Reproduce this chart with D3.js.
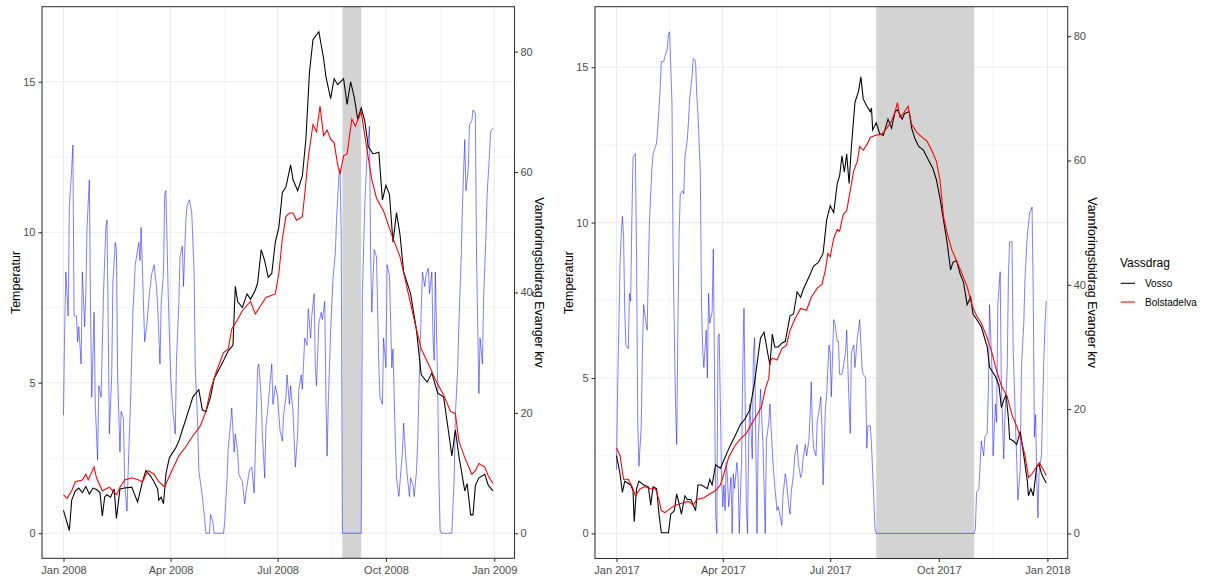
<!DOCTYPE html>
<html>
<head>
<meta charset="utf-8">
<script src="https://cdn.jsdelivr.net/npm/d3@7"></script>
<style>
  body { margin: 0; background: #fff; }
  svg text { font-family: "Liberation Sans", Arial, sans-serif; }
</style>
</head>
<body>
<svg id="chart" width="1207" height="577"></svg>
<script>
// each row is [day of year, value]; temperatures in degrees, flow in the secondary unit
var vosso2008 = [[0,0.76],[5,0.09],[7,1.1],[10,1.4],[13,1.5],[16,1.35],[19,1.55],[22,1.3],[25,1.5],[28,1.45],[31,1.35],[33,0.57],[35,1.2],[37,1.28],[40,1.2],[43,1.47],[45,0.49],[48,1.47],[52,1.5],[58,1.53],[63,1.04],[67,1.7],[70,2.08],[74,1.9],[77,1.7],[80,1.47],[81,1.1],[83,1.2],[85,0.98],[87,1.96],[90,2.51],[95,2.81],[98,3.06],[101,3.43],[104,3.79],[110,4.53],[115,4.77],[118,4.1],[121,4.04],[125,4.53],[128,5.14],[133,5.51],[137,5.81],[140,6.06],[144,6.24],[146,8.2],[148,7.7],[152,7.5],[156,7.95],[159,7.77],[163,8.08],[165,8.32],[168,9.42],[171,9.05],[174,8.5],[177,8.63],[180,9.67],[183,10.16],[186,11.32],[189,11.5],[193,12.24],[195,11.75],[199,11.38],[203,11.87],[206,13.1],[209,15.3],[212,16.4],[217,16.66],[221,15.78],[223,15.17],[227,14.44],[230,15.1],[233,14.9],[238,15.1],[241,14.25],[244,15.0],[247,14.5],[250,13.76],[253,14.13],[256,13.7],[259,12.85],[263,12.6],[268,12.66],[271,11.07],[274,11.56],[277,11.26],[280,9.67],[283,10.65],[286,9.91],[289,8.69],[295,7.95],[300,6.73],[304,5.26],[309,5.02],[313,5.32],[318,4.65],[323,4.53],[327,3.43],[330,2.57],[333,3.43],[336,2.57],[341,1.41],[343,1.65],[346,0.61],[348,0.61],[350,1.59],[353,1.84],[358,1.96],[361,1.59],[365,1.41]];
var bolstad2008 = [[0,1.28],[3,1.16],[7,1.41],[10,1.71],[16,1.77],[19,1.96],[21,1.77],[26,2.2],[28,1.84],[33,1.41],[39,1.53],[45,1.28],[48,1.53],[52,1.77],[58,1.84],[64,1.77],[67,1.7],[72,2.08],[77,1.96],[81,1.71],[86,1.53],[90,1.9],[98,2.57],[104,2.88],[110,3.24],[116,3.55],[121,4.04],[125,4.77],[130,5.38],[136,6.0],[140,6.12],[143,6.79],[148,7.1],[152,7.4],[159,7.7],[163,7.28],[168,7.59],[172,7.83],[180,7.95],[183,8.63],[186,9.79],[189,10.52],[192,10.64],[195,10.64],[198,10.4],[203,10.52],[205,11.26],[208,12.48],[212,13.58],[215,13.34],[218,14.19],[221,13.21],[224,13.4],[227,13.09],[230,12.97],[233,12.24],[235,11.93],[238,12.54],[241,12.6],[245,13.76],[248,13.52],[253,14.0],[257,12.97],[262,11.75],[266,11.13],[272,10.7],[279,9.91],[286,9.18],[292,8.14],[298,7.1],[304,6.12],[310,5.63],[317,5.02],[323,4.59],[329,4.04],[333,3.98],[336,3.06],[341,2.51],[347,1.96],[350,2.08],[353,2.32],[358,2.2],[361,1.9],[365,1.65]];
var flow2008 = [[0,19.6],[1,33.6],[2,43.4],[4,36.1],[5,54.4],[7,60.6],[8,64.5],[9,36.1],[11,36.1],[12,31.8],[13,34.3],[15,28.1],[16,43.4],[18,34.3],[19,39.8],[20,50.8],[22,58.7],[23,36.7],[24,22.6],[26,36.7],[27,21.4],[29,12.2],[30,24.5],[32,22.6],[34,39.8],[36,50.8],[37,52.0],[38,34.9],[39,16.5],[41,26.3],[42,41.6],[44,48.3],[45,47.1],[46,26.3],[48,13.5],[49,20.2],[51,19.0],[52,8.0],[54,3.7],[55,10.4],[57,22.0],[59,36.7],[61,44.6],[64,48.3],[65,45.3],[66,50.8],[68,37.9],[69,31.8],[71,34.9],[73,39.8],[75,43.1],[77,44.6],[79,41.0],[80,37.9],[82,28.1],[83,37.9],[85,43.4],[86,56.3],[87,56.9],[89,39.8],[91,26.3],[93,20.2],[95,16.5],[96,28.7],[98,37.9],[99,45.9],[101,47.7],[102,41.0],[104,52.0],[105,54.4],[107,55.4],[109,53.2],[111,43.4],[112,27.5],[114,18.3],[115,10.4],[118,6.1],[120,2.4],[121,0],[124,0],[125,3.1],[127,1.8],[128,0],[136,0],[137,1.8],[139,9.2],[140,14.1],[142,18.3],[143,20.8],[145,13.5],[146,16.5],[148,13.5],[149,9.8],[152,8.6],[154,4.9],[155,6.7],[158,10.4],[160,11.0],[162,6.7],[163,13.5],[165,27.5],[166,28.1],[168,22.6],[169,16.5],[171,9.2],[172,17.7],[174,21.4],[175,23.9],[177,28.1],[178,21.4],[180,24.5],[182,22.6],[184,17.1],[186,15.3],[187,19.6],[189,22.6],[190,26.3],[192,21.4],[193,24.5],[195,20.2],[197,11.0],[199,16.5],[200,23.9],[202,26.3],[203,23.9],[205,32.4],[207,31.2],[208,37.3],[210,32.4],[211,36.1],[213,39.8],[214,27.5],[215,24.5],[217,34.9],[219,36.7],[220,35.5],[222,38.5],[223,22.6],[224,12.8],[225,21.4],[227,33.6],[229,42.2],[231,46.5],[232,52.0],[234,59.3],[235,60.6],[236,49.5],[237,0],[253,0],[254,39.8],[256,54.4],[258,63.0],[260,67.6],[261,45.9],[262,36.7],[264,47.1],[265,46.5],[266,45.9],[268,27.5],[269,22.6],[271,21.4],[272,32.4],[274,27.5],[275,44.6],[277,42.8],[279,27.5],[280,30.6],[282,15.3],[283,9.2],[285,6.1],[286,8.6],[288,13.5],[289,18.3],[291,12.2],[292,9.8],[294,6.1],[295,9.2],[297,8.0],[298,6.1],[300,10.4],[301,15.3],[303,30.6],[305,43.4],[307,41.0],[308,42.8],[310,44.0],[311,39.8],[313,43.4],[314,32.4],[315,28.7],[316,43.4],[318,24.5],[319,9.2],[320,0.6],[321,0],[330,0],[332,9.2],[333,19.6],[335,27.5],[336,34.9],[338,45.9],[339,54.4],[341,65.4],[342,56.9],[344,60.6],[345,67.9],[347,68.5],[348,70.3],[350,69.7],[351,45.9],[353,23.2],[354,32.4],[356,28.1],[357,39.1],[359,49.5],[360,56.3],[362,63.0],[363,66.7],[365,67.3]];

var vosso2017 = [[0,2.5],[3,1.92],[5,1.32],[7,1.68],[12,1.56],[14,1.38],[15,0.38],[17,1.44],[19,1.68],[23,1.56],[27,1.5],[29,0.91],[31,1.5],[34,1.44],[36,0.62],[38,0.02],[44,0.02],[46,0.62],[49,0.73],[51,1.27],[53,0.97],[55,0.62],[58,1.21],[60,1.09],[63,1.09],[67,0.73],[69,1.56],[72,1.56],[77,1.44],[79,1.74],[81,1.56],[84,2.21],[88,2.09],[92,2.45],[96,2.8],[100,3.1],[105,3.51],[109,3.69],[113,3.99],[117,4.87],[122,6.29],[125,6.47],[128,5.82],[130,5.41],[132,6.41],[134,6.0],[137,6.0],[140,6.12],[143,6.18],[147,7.0],[150,7.06],[153,7.77],[156,7.6],[158,7.83],[163,8.25],[167,8.6],[171,8.72],[175,9.01],[178,10.08],[181,10.55],[184,10.32],[187,11.26],[189,11.5],[191,12.15],[193,11.62],[195,12.21],[197,11.26],[199,12.45],[202,13.87],[205,14.22],[207,14.69],[209,13.98],[212,13.75],[215,13.57],[216,13.69],[217,12.98],[220,13.21],[223,12.86],[226,12.8],[230,13.33],[233,13.04],[236,13.57],[238,13.63],[242,13.33],[244,13.51],[248,13.57],[250,13.04],[253,12.68],[256,12.45],[260,12.33],[264,12.03],[268,11.74],[271,11.38],[274,10.79],[277,10.08],[280,9.37],[283,8.48],[285,8.72],[288,8.78],[291,8.36],[294,8.07],[297,7.36],[300,7.6],[302,7.06],[305,6.89],[309,6.65],[314,6.0],[316,5.35],[321,5.05],[324,4.76],[326,4.05],[328,4.28],[330,4.46],[332,3.69],[333,3.04],[336,2.98],[339,2.86],[342,3.28],[345,2.51],[348,1.68],[349,1.21],[351,1.44],[353,1.21],[356,2.15],[358,2.21],[360,1.92],[364,1.62]];
var bolstad2017 = [[0,2.74],[3,2.51],[6,1.74],[10,1.74],[14,1.44],[16,1.21],[20,1.44],[24,1.5],[29,1.44],[33,1.44],[36,1.09],[38,0.73],[41,0.67],[45,0.79],[50,0.91],[55,0.97],[61,1.03],[65,0.91],[68,1.09],[74,1.15],[79,1.27],[84,1.38],[88,1.56],[91,1.92],[95,2.45],[101,2.86],[105,3.04],[110,3.22],[115,3.57],[119,3.81],[123,4.1],[126,4.64],[129,4.99],[130,5.52],[132,5.64],[136,5.58],[140,5.94],[144,6.06],[147,6.53],[151,6.89],[156,7.24],[161,7.18],[165,7.6],[170,7.89],[174,8.01],[177,8.48],[179,9.01],[181,8.9],[184,9.49],[187,9.78],[189,9.72],[192,10.26],[195,10.38],[198,11.03],[201,11.68],[204,11.97],[206,12.45],[209,12.33],[212,12.5],[215,12.74],[219,12.8],[225,12.86],[229,13.04],[233,13.27],[236,13.57],[238,13.86],[240,13.39],[243,13.51],[247,13.75],[250,13.16],[254,12.92],[259,12.74],[263,12.62],[267,12.33],[271,11.97],[274,11.38],[277,10.2],[280,9.67],[284,9.13],[288,8.78],[292,8.42],[297,7.95],[301,7.36],[305,7.0],[309,6.77],[314,6.29],[318,5.82],[322,5.23],[326,4.76],[331,4.4],[335,3.81],[339,3.45],[343,2.98],[346,2.51],[349,1.8],[352,1.92],[355,2.09],[358,2.27],[361,2.09],[364,1.86]];
var flow2017 = [[0,10.2],[1,23.8],[2,33.3],[3,43.3],[4,48.0],[5,51.0],[6,48.0],[7,35.6],[8,30.3],[10,29.7],[11,38.6],[12,37.4],[13,50.4],[14,60.5],[16,61.1],[17,44.5],[18,17.9],[19,10.8],[21,17.3],[22,29.7],[23,36.8],[25,33.8],[26,32.7],[27,42.7],[28,50.4],[30,58.7],[31,61.1],[33,62.2],[34,62.8],[36,68.2],[37,71.7],[38,75.9],[40,75.9],[41,76.7],[43,77.9],[44,80.3],[45,80.7],[47,69.3],[48,44.5],[50,20.8],[51,14.3],[52,32.7],[53,47.5],[54,54.6],[56,55.1],[57,54.6],[58,60.5],[60,63.4],[61,66.4],[62,69.9],[64,73.5],[65,76.4],[67,75.9],[68,70.5],[69,67.6],[71,58.1],[72,36.8],[73,29.7],[74,26.7],[76,32.7],[77,25.0],[78,38.6],[79,33.8],[81,35.6],[82,45.7],[83,26.7],[84,3.1],[85,0],[86,31.5],[87,32.1],[89,9.0],[90,4.3],[91,7.8],[92,3.7],[93,11.4],[94,9.0],[95,4.3],[97,9.0],[98,0],[99,9.6],[100,7.2],[102,11.4],[103,9.0],[104,0],[106,12.0],[107,27.3],[108,36.2],[109,22.0],[110,4.3],[111,0],[112,14.9],[113,20.8],[115,12.0],[116,29.1],[117,31.5],[118,14.9],[119,0],[120,14.3],[122,23.2],[123,18.5],[124,14.9],[126,0],[127,14.9],[129,17.9],[130,20.8],[132,13.1],[133,10.2],[134,7.8],[136,3.7],[137,4.3],[139,2.5],[140,1.3],[141,6.0],[143,9.6],[144,8.4],[146,4.3],[147,3.1],[148,6.6],[150,9.6],[151,12.5],[153,14.3],[154,11.4],[156,9.0],[157,9.6],[158,12.0],[160,14.3],[161,12.5],[163,14.9],[164,19.1],[165,24.4],[166,16.7],[167,13.7],[169,12.5],[170,17.9],[172,20.2],[173,22.0],[174,17.3],[175,7.8],[177,20.2],[178,22.3],[180,30.3],[181,29.1],[182,22.0],[184,34.4],[185,33.8],[187,30.9],[188,30.9],[189,25.6],[191,25.6],[192,26.7],[194,29.1],[195,32.7],[197,20.8],[198,16.1],[199,29.1],[201,30.3],[202,26.7],[204,31.5],[205,32.7],[206,34.4],[208,26.7],[209,25.6],[211,25.0],[212,13.7],[213,17.3],[215,17.3],[216,14.3],[218,5.4],[219,0.7],[220,0],[303,0],[304,0.7],[305,6.6],[307,7.2],[309,14.9],[311,12.5],[312,15.5],[314,16.1],[315,23.2],[316,36.8],[318,26.7],[319,12.5],[321,20.8],[322,17.9],[323,36.8],[325,42.1],[326,23.8],[328,12.0],[329,18.5],[331,26.7],[332,41.5],[333,46.9],[335,46.9],[336,29.7],[338,17.3],[339,12.0],[340,5.4],[342,10.2],[343,26.7],[345,33.8],[346,40.9],[348,48.0],[349,49.8],[350,51.6],[352,52.5],[353,38.6],[354,15.5],[355,19.1],[356,9.0],[357,2.5],[358,10.2],[360,12.5],[361,20.8],[362,27.9],[363,33.8],[364,37.4]];

// shaded periods, [first day, last day]
var shade2008 = [237, 253];
var shade2017 = [220, 303];

var monthBreaks = [0, 3, 6, 9, 12];
var tempTicks = [0, 5, 10, 15];
var flowTicks = [0, 20, 40, 60, 80];
var flowFactor = 5;

var seriesNames = ["Vosso", "Bolstadelva"];
var seriesColors = ["#000000", "#ff0000"];
var legendTitle = "Vassdrag";
var yTitle = "Temperatur";
var y2Title = "Vannforingsbidrag Evanger krv";

var svg = d3.select("#chart");
svg.append("rect").attr("width", 1207).attr("height", 577).attr("fill", "#fff");

function toPoints(rows, year, div) {
  var start = Date.UTC(year, 0, 1);
  return rows.map(function(r) {
    return { date: new Date(start + r[0] * 864e5), value: r[1] / (div || 1) };
  });
}

function drawPanel(p) {
  var g = svg.append("g");
  var vosso = toPoints(p.vosso, p.year);
  var bolstad = toPoints(p.bolstad, p.year);
  var flow = toPoints(p.flow, p.year, flowFactor);
  var all = vosso.concat(bolstad, flow);

  // ggplot-style 5% expansion on both axes
  var xExt = d3.extent(all, function(d) { return +d.date; });
  var yExt = d3.extent(all, function(d) { return d.value; });
  var xPad = (xExt[1] - xExt[0]) * 0.05, yPad = (yExt[1] - yExt[0]) * 0.05;
  var x = d3.scaleUtc().domain([new Date(xExt[0] - xPad), new Date(xExt[1] + xPad)]).range([p.left, p.right]);
  var y = d3.scaleLinear().domain([yExt[0] - yPad, yExt[1] + yPad]).range([p.bottom, p.top]);
  var yFlow = d3.scaleLinear().domain(y.domain().map(function(v) { return v * flowFactor; })).range([p.bottom, p.top]);

  var xBreaks = monthBreaks.map(function(m) { return new Date(Date.UTC(p.year, m, 1)); });
  var xMinor = d3.pairs(xBreaks).map(function(a) { return new Date((+a[0] + +a[1]) / 2); });
  var yMinor = d3.pairs(tempTicks).map(function(a) { return (a[0] + a[1]) / 2; });

  // grid
  g.selectAll(".vminor").data(xMinor).enter().append("line")
    .attr("x1", x).attr("x2", x).attr("y1", p.top).attr("y2", p.bottom)
    .attr("stroke", "#ebebeb").attr("stroke-width", 0.55);
  g.selectAll(".hminor").data(yMinor).enter().append("line")
    .attr("x1", p.left).attr("x2", p.right).attr("y1", y).attr("y2", y)
    .attr("stroke", "#ebebeb").attr("stroke-width", 0.55);
  g.selectAll(".vmajor").data(xBreaks).enter().append("line")
    .attr("x1", x).attr("x2", x).attr("y1", p.top).attr("y2", p.bottom)
    .attr("stroke", "#ebebeb").attr("stroke-width", 1.07);
  g.selectAll(".hmajor").data(tempTicks).enter().append("line")
    .attr("x1", p.left).attr("x2", p.right).attr("y1", y).attr("y2", y)
    .attr("stroke", "#ebebeb").attr("stroke-width", 1.07);

  // shaded period
  var s0 = new Date(Date.UTC(p.year, 0, 1) + p.shade[0] * 864e5);
  var s1 = new Date(Date.UTC(p.year, 0, 1) + p.shade[1] * 864e5);
  g.append("rect")
    .attr("x", x(s0)).attr("width", x(s1) - x(s0))
    .attr("y", p.top).attr("height", p.bottom - p.top)
    .attr("fill", "#d3d3d3");

  var line = d3.line().x(function(d) { return x(d.date); }).y(function(d) { return y(d.value); });

  g.append("path").datum(flow).attr("d", line)
    .attr("fill", "none").attr("stroke", "#0000ff").attr("stroke-opacity", 0.5).attr("stroke-width", 1);
  g.append("path").datum(vosso).attr("d", line)
    .attr("fill", "none").attr("stroke", seriesColors[0]).attr("stroke-width", 1.07);
  g.append("path").datum(bolstad).attr("d", line)
    .attr("fill", "none").attr("stroke", seriesColors[1]).attr("stroke-width", 1.07);

  // panel border
  g.append("rect")
    .attr("x", p.left).attr("y", p.top)
    .attr("width", p.right - p.left).attr("height", p.bottom - p.top)
    .attr("fill", "none").attr("stroke", "#333333").attr("stroke-width", 1.07);

  // axes
  var xAxis = g.append("g").attr("transform", "translate(0," + p.bottom + ")")
    .call(d3.axisBottom(x).tickValues(xBreaks).tickFormat(d3.utcFormat("%b %Y")).tickSize(3.5).tickPadding(4.2));
  var yAxis = g.append("g").attr("transform", "translate(" + p.left + ",0)")
    .call(d3.axisLeft(y).tickValues(tempTicks).tickFormat(d3.format("d")).tickSize(3.5).tickPadding(3));
  var y2Axis = g.append("g").attr("transform", "translate(" + p.right + ",0)")
    .call(d3.axisRight(yFlow).tickValues(flowTicks).tickFormat(d3.format("d")).tickSize(3.5).tickPadding(2.5));

  [xAxis, yAxis, y2Axis].forEach(function(a) {
    a.select(".domain").remove();
    a.attr("font-family", null).attr("font-size", null);
    a.selectAll("line").attr("stroke", "#333333").attr("stroke-width", 1.07);
    a.selectAll("text").attr("fill", "#4d4d4d").style("font-size", "11px");
  });

  var midY = (p.top + p.bottom) / 2;
  g.append("text")
    .attr("transform", "translate(" + (p.left - 26) + "," + midY + ") rotate(-90)")
    .attr("text-anchor", "middle").attr("dy", "0.35em")
    .style("font-size", "12.5px").attr("fill", "#000")
    .text(yTitle);
  g.append("text")
    .attr("transform", "translate(" + (p.right + 25) + "," + midY + ") rotate(90)")
    .attr("text-anchor", "middle").attr("dy", "0.35em")
    .style("font-size", "12.5px").attr("fill", "#000")
    .text(y2Title);
}

drawPanel({ year: 2008, vosso: vosso2008, bolstad: bolstad2008, flow: flow2008, shade: shade2008,
            left: 42, right: 514.5, top: 6.7, bottom: 558.3 });
drawPanel({ year: 2017, vosso: vosso2017, bolstad: bolstad2017, flow: flow2017, shade: shade2017,
            left: 595, right: 1067.7, top: 6.7, bottom: 558.5 });

// legend
var legend = svg.append("g").attr("transform", "translate(1120,0)");
legend.append("text").attr("x", 0).attr("y", 267)
  .style("font-size", "12px").attr("fill", "#000").text(legendTitle);
var item = legend.selectAll(".item").data(seriesNames).enter().append("g")
  .attr("transform", function(d, i) { return "translate(0," + (283.3 + i * 18.7) + ")"; });
item.append("line").attr("x1", 0.7).attr("x2", 15).attr("y1", 0).attr("y2", 0)
  .attr("stroke", function(d, i) { return seriesColors[i]; }).attr("stroke-width", 1.07);
item.append("text").attr("x", 25).attr("dy", "0.35em")
  .style("font-size", "10px").attr("fill", "#000").text(function(d) { return d; });
</script>
</body>
</html>
